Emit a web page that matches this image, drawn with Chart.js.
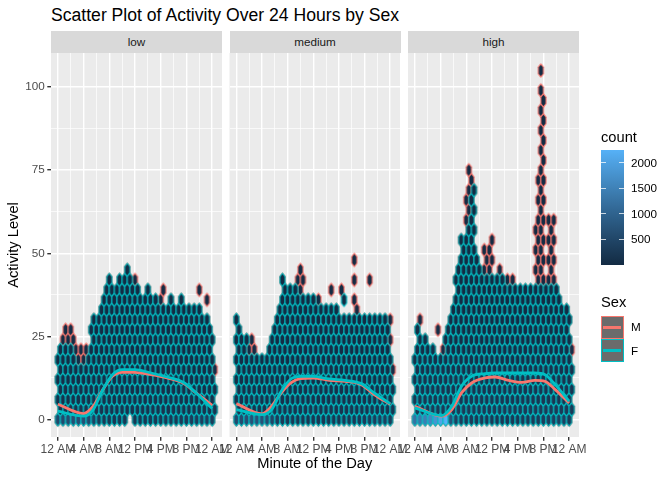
<!DOCTYPE html>
<html>
<head>
<meta charset="utf-8">
<script src="https://cdn.jsdelivr.net/npm/chart.js@4.4.1/dist/chart.umd.min.js"></script>
<style>
  html, body { margin:0; padding:0; background:#fff; }
  body { width:672px; height:480px; position:relative; overflow:hidden; font-family:"Liberation Sans", Arial, Helvetica, sans-serif; }
  .abs { position:absolute; white-space:nowrap; }
  canvas { position:absolute; top:0; }
</style>
</head>
<body>
<div id="plotTitle" class="abs" style="left:51px; top:5px; font-size:17.6px; line-height:20px; color:#000;">Scatter Plot of Activity Over 24 Hours by Sex</div>
<div id="strips"></div>
<canvas id="c0" width="252" height="480" style="left:0px"></canvas>
<canvas id="c1" width="221" height="480" style="left:209px"></canvas>
<canvas id="c2" width="221" height="480" style="left:388px"></canvas>
<div id="legend"></div>
<script>
// ---------------- data ----------------
const panelNames = ['low', 'medium', 'high'];
const sexLevels = ['M', 'F'];
const sexColors = ['#F8766D', '#00BFC4'];
const xTickMinutes = [0, 240, 480, 720, 960, 1200, 1440];
const xTickLabels = ['12 AM', '4 AM', '8 AM', '12 PM', '4 PM', '8 PM', '12 AM'];
const xMinorMinutes = [120, 360, 600, 840, 1080, 1320];
const yTickValues = [0, 25, 50, 75, 100];
const yMinorValues = [12.5, 37.5, 62.5, 87.5];
const countBreaks = [500, 1000, 1500, 2000];
const countRange = [1, 2246];

// hex grid: half-column k sits at minute k*24, rows every 3 activity units
const hexHalfColMinutes = 24;
const hexRowStep = 3;
const baseCount = 15;

// top of each hex half-column (activity units), k = 0..61
const lowTopM = [18,21,24,27,24,27,24,21,18,21, 18,21,21,27,30,30,30,33,36,39, 42,39,36,39,42,39,42,45,42,39, 42,39,36,33,36,39,36,36,36,33, 36,39,33,33,36,33,30,33,36,33, 33,33,33,33,30,33,30,30,30,27, 24,15];
const lowTopF = [18,21,21,21,21,21,18,18,15,15, 15,15,21,27,30,30,30,33,36,39, 42,39,36,39,42,39,42,45,42,39, 36,39,36,33,36,39,36,36,36,33, 33,33,33,33,36,33,30,33,36,33, 33,33,33,33,30,33,30,30,30,27, 24,9];
const mediumTopM = [30,27,24,24,24,21,24,21,18,19, 19,19,19,25,28,31,34,34,42,39, 37,40,37,40,42,45,42,37,37,37, 37,37,36,34,34,34,34,34,34,34, 31,31,31,31,31,31,31,31,31,31, 31,31,31,31,31,31,31,31,31,27, 30,15];
const mediumTopF = [30,27,24,24,24,19,19,19,19,19, 19,19,19,21,24,31,34,34,42,39, 37,40,37,40,37,37,37,37,37,37, 37,37,34,34,34,34,34,34,34,34, 31,31,31,31,31,31,31,31,31,31, 31,31,31,31,31,31,31,31,31,27, 19,10];
const highTopM = [19,28,31,25,25,22,22,22,19,19, 19,25,28,31,34,34,43,46,55,52, 67,76,73,70,52,46,43,52,49,52, 55,43,43,46,43,43,43,40,43,40, 40,40,40,40,40,40,40,58,73,106, 97,40,61,58,61,40,40,34,34,34, 31,22];
const highTopF = [19,28,28,25,25,22,22,22,19,19, 19,19,28,31,34,34,43,46,55,52, 55,58,66,70,52,46,43,43,43,43, 43,43,43,43,43,43,40,40,40,40, 40,40,40,40,40,40,40,40,40,40, 40,40,40,40,40,40,40,34,34,34, 31,19];

// isolated hexes [half-column k, activity]
const lowOutM = [[55,39],[58,36]];
const lowOutF = [];
const mediumOutM = [[37,39],[41,39],[46,48],[46,42],[46,36],[47,33],[52,42]];
const mediumOutF = [[42,36]];
const highOutM = [[9,27]];
const highOutF = [];
// empty hexes inside the filled area [k, activity]
const lowMissing = [[28,0]];
const mediumMissing = [];
const highMissing = [];

// counts: bottom row (even k = 0..60) and rows above (row 1..10)
const lowRow0Count = [520,560,600,640,660,650,560,420,300,260, 240,230,220,220,210,210,210,220,220,230, 230,240,250,260,280,300,320,340,360,380, 300];
const mediumRow0Count = [560,600,650,700,720,700,620,480,340,280, 250,240,230,230,220,220,220,230,230,240, 240,250,260,270,290,310,330,350,370,390, 300];
const highRow0Count = [1250,1350,1450,1600,1800,2050,2246,700,400,320, 300,280,260,250,250,250,250,250,250,260, 270,280,290,300,320,340,360,380,400,400, 300];
const lowUpperCount = [170,130,100,80,65,50,40,32,26,20];
const mediumUpperCount = [190,140,110,90,70,55,45,36,28,22];
const highUpperCount = [280,230,200,170,140,110,85,65,50,38];

// smoothed trend per sex
const lowSmoothX = [0, 240, 330, 420, 510, 600, 720, 870, 1020, 1170, 1290, 1440];
const lowSmoothM = [4.6, 1.8, 4, 9, 13, 14.2, 14.2, 13.5, 12.5, 11, 8, 4.3];
const lowSmoothF = [2.5, 1, 3, 9, 13.5, 15, 15, 14, 12.8, 11.2, 8, 3.3];
const mediumSmoothX = [0, 240, 330, 420, 510, 600, 720, 870, 1020, 1170, 1290, 1440];
const mediumSmoothM = [4.8, 1.7, 4, 8, 11, 12.3, 12.5, 11.8, 11.5, 10.5, 7.5, 4.6];
const mediumSmoothF = [3, 1.5, 3, 8.5, 12.2, 13, 13, 12.2, 11.8, 10.8, 8, 4.8];
const highSmoothX = [0, 250, 345, 435, 530, 655, 750, 875, 1000, 1120, 1215, 1310, 1440];
const highSmoothM = [4, 1, 3, 8, 11, 12.5, 12.8, 11.8, 11.2, 11.8, 11.5, 9, 5];
const highSmoothF = [3.5, 1.2, 4, 10, 13, 13.8, 14, 14, 14, 14, 13.5, 10.5, 5.5];

// ---------------- styles / layout ----------------
const FONT = '"Liberation Sans", Arial, Helvetica, sans-serif';
const panelLeft = [51, 229.5, 408];
const panelWidth = 171;
const yAxisWidth = [51, 20.5, 20];
const rightPad = 30;
const plotTop = 53, plotBottom = 437;
const xRange = [-64, 1532];
const yRange = [-5.25, 110.25];
const lowColor = '#132B43', highColor = '#56B1F7';
const hexLineWidth = 1.05;

// ---------------- colour ramp (CIELAB like ggplot) ----------------
function toLin(c){ c/=255; return c<=0.04045 ? c/12.92 : Math.pow((c+0.055)/1.055, 2.4); }
function toSrgb(v){ v = v<=0.0031308 ? 12.92*v : 1.055*Math.pow(v,1/2.4)-0.055; return Math.round(Math.max(0,Math.min(1,v))*255); }
function hexToLab(hex){
  const r=toLin(parseInt(hex.slice(1,3),16)), g=toLin(parseInt(hex.slice(3,5),16)), b=toLin(parseInt(hex.slice(5,7),16));
  let X=(0.4124*r+0.3576*g+0.1805*b)/0.95047, Y=0.2126*r+0.7152*g+0.0722*b, Z=(0.0193*r+0.1192*g+0.9505*b)/1.08883;
  const f=t=> t>0.008856 ? Math.cbrt(t) : 7.787*t+16/116;
  const fx=f(X), fy=f(Y), fz=f(Z);
  return [116*fy-16, 500*(fx-fy), 200*(fy-fz)];
}
function labToRgb(L,a,b){
  const fy=(L+16)/116, fx=fy+a/500, fz=fy-b/200;
  const inv=t=> t*t*t>0.008856 ? t*t*t : (t-16/116)/7.787;
  const X=inv(fx)*0.95047, Y=inv(fy), Z=inv(fz)*1.08883;
  const r= 3.2406*X-1.5372*Y-0.4986*Z, g=-0.9689*X+1.8758*Y+0.0415*Z, bb=0.0557*X-0.2040*Y+1.0570*Z;
  return 'rgb('+toSrgb(r)+','+toSrgb(g)+','+toSrgb(bb)+')';
}
const labLow = hexToLab(lowColor), labHigh = hexToLab(highColor);
function rampColor(t){
  t=Math.max(0,Math.min(1,t));
  return labToRgb(labLow[0]+(labHigh[0]-labLow[0])*t, labLow[1]+(labHigh[1]-labLow[1])*t, labLow[2]+(labHigh[2]-labLow[2])*t);
}
function countColor(c){ return rampColor((c-countRange[0])/(countRange[1]-countRange[0])); }

// ---------------- build hex points ----------------
const panelTops = [[lowTopM, lowTopF],[mediumTopM, mediumTopF],[highTopM, highTopF]];
const panelOut = [[lowOutM, lowOutF],[mediumOutM, mediumOutF],[highOutM, highOutF]];
const panelMissing = [lowMissing, mediumMissing, highMissing];
const panelRow0 = [lowRow0Count, mediumRow0Count, highRow0Count];
const panelUpper = [lowUpperCount, mediumUpperCount, highUpperCount];
const panelSmoothX = [lowSmoothX, mediumSmoothX, highSmoothX];
const panelSmooth = [[lowSmoothM, lowSmoothF],[mediumSmoothM, mediumSmoothF],[highSmoothM, highSmoothF]];

function countFor(p, k, r){
  if (r === 0) return panelRow0[p][Math.round(k/2)];
  const u = panelUpper[p][r-1];
  return u !== undefined ? u : baseCount;
}
function buildHexes(p, s){
  const pts = [];
  const tops = panelTops[p][s];
  tops.forEach((top, k) => {
    for (let r = k % 2; r*hexRowStep <= top + 1e-9; r += 2) {
      const y = r*hexRowStep;
      if (panelMissing[p].some(m => m[0]===k && m[1]===y)) continue;
      pts.push({x: k*hexHalfColMinutes, y: y, c: countFor(p, k, r)});
    }
  });
  panelOut[p][s].forEach(([k, y]) => pts.push({x: k*hexHalfColMinutes, y: y, c: countFor(p, k, Math.round(y/hexRowStep))}));
  return pts;
}

// hexagon size in pixels follows the axis ranges
function hexPixelSize(chart){
  let w = NaN, h = NaN;
  const xs = chart && chart.scales && chart.scales.x, ys = chart && chart.scales && chart.scales.y;
  if (xs && ys) {
    w = Math.abs(xs.getPixelForValue(2*hexHalfColMinutes) - xs.getPixelForValue(0));
    h = Math.abs(ys.getPixelForValue(0) - ys.getPixelForValue(hexRowStep*4/3));
  }
  if (!isFinite(w) || w <= 0.5 || w > 50) w = panelWidth * 2*hexHalfColMinutes / (xRange[1]-xRange[0]);
  if (!isFinite(h) || h <= 0.5 || h > 80) h = (plotBottom-plotTop) * (hexRowStep*4/3) / (yRange[1]-yRange[0]);
  return [w, h];
}
const hexCache = {};
function hexImage(chart, fill, stroke){
  const key = fill + '|' + stroke;
  if (hexCache[key]) return hexCache[key];
  const [w, h] = hexPixelSize(chart);
  const lw = hexLineWidth;
  const W = Math.ceil(w + lw) + 2, H = Math.ceil(h + lw) + 2;
  const cv = document.createElement('canvas');
  cv.width = W; cv.height = H;
  const g = cv.getContext('2d');
  const cx = W/2, cy = H/2;
  g.beginPath();
  g.moveTo(cx, cy - h/2);
  g.lineTo(cx + w/2, cy - h/4);
  g.lineTo(cx + w/2, cy + h/4);
  g.lineTo(cx, cy + h/2);
  g.lineTo(cx - w/2, cy + h/4);
  g.lineTo(cx - w/2, cy - h/4);
  g.closePath();
  g.fillStyle = fill; g.fill();
  g.lineWidth = lw; g.strokeStyle = stroke; g.lineJoin = 'round'; g.stroke();
  hexCache[key] = cv;
  return cv;
}

const panelBg = {
  id: 'panelBg',
  beforeDraw(chart){
    const a = chart.chartArea, c = chart.ctx;
    c.save(); c.fillStyle = '#EBEBEB'; c.fillRect(a.left, a.top, a.right - a.left, a.bottom - a.top); c.restore();
  }
};

Chart.defaults.font.family = FONT;

function isMajorX(v){ return xTickMinutes.includes(v); }
function isMajorY(v){ return yTickValues.includes(v); }

function makeChart(p){
  const datasets = [];
  sexLevels.forEach((sx, s) => {
    datasets.push({
      type: 'scatter', label: sx + ' hex', data: buildHexes(p, s), order: 4 - s,
      pointRadius: 3, pointHoverRadius: 3,
      pointStyle: ctx => (ctx.raw && ctx.raw.c !== undefined) ? hexImage(ctx.chart, countColor(ctx.raw.c), sexColors[s]) : 'circle'
    });
  });
  sexLevels.forEach((sx, s) => {
    datasets.push({
      type: 'line', label: sx + ' smooth',
      data: panelSmoothX[p].map((x, i) => ({x: x, y: panelSmooth[p][s][i]})),
      borderColor: sexColors[s], borderWidth: 2.8, pointRadius: 0, fill: false,
      cubicInterpolationMode: 'monotone', order: 2 - s
    });
  });
  const first = p === 0;
  return new Chart(document.getElementById('c' + p), {
    type: 'scatter',
    data: { datasets },
    options: {
      responsive: false, animation: false, events: [],
      layout: { padding: { left: 0, right: rightPad, top: plotTop, bottom: 0 } },
      plugins: { legend: { display: false }, tooltip: { enabled: false }, title: { display: false } },
      scales: {
        x: {
          type: 'linear', min: xRange[0], max: xRange[1],
          afterBuildTicks: sc => { sc.ticks = xTickMinutes.concat(xMinorMinutes).sort((a,b)=>a-b).map(v => ({value: v})); },
          afterFit: sc => { sc.height = 480 - plotBottom; },
          border: { display: false },
          grid: {
            color: '#FFFFFF',
            lineWidth: c => (c.tick && isMajorX(c.tick.value)) ? 1.4 : 0.7,
            tickColor: c => (c.tick && isMajorX(c.tick.value)) ? '#333333' : 'rgba(0,0,0,0)',
            tickLength: 3.7, drawTicks: true
          },
          ticks: {
            autoSkip: false, maxRotation: 0, minRotation: 0, padding: 2,
            color: '#4D4D4D', font: { size: 12 },
            callback: v => { const i = xTickMinutes.indexOf(v); return i >= 0 ? xTickLabels[i] : ''; }
          },
          title: { display: p === 1, text: 'Minute of the Day', color: '#000000', font: { size: 14.7 }, padding: { top: 0, bottom: 7 } }
        },
        y: {
          type: 'linear', min: yRange[0], max: yRange[1],
          afterBuildTicks: sc => { sc.ticks = yTickValues.concat(yMinorValues).sort((a,b)=>a-b).map(v => ({value: v})); },
          afterFit: sc => { sc.width = yAxisWidth[p]; },
          border: { display: false },
          grid: {
            color: '#FFFFFF',
            lineWidth: c => (c.tick && isMajorY(c.tick.value)) ? 1.4 : 0.7,
            tickColor: c => (c.tick && isMajorY(c.tick.value)) ? '#333333' : 'rgba(0,0,0,0)',
            tickLength: 3.7, drawTicks: first
          },
          ticks: {
            display: first, padding: 2.5, color: '#4D4D4D', font: { size: 11.7 },
            callback: v => isMajorY(v) ? String(v) : ''
          },
          title: { display: first, text: 'Activity Level', color: '#000000', font: { size: 14.7 }, padding: { top: 5, bottom: 0 } }
        }
      }
    },
    plugins: [panelBg]
  });
}

// strips
const stripsEl = document.getElementById('strips');
panelNames.forEach((name, p) => {
  const d = document.createElement('div');
  d.className = 'abs';
  d.style.cssText = 'left:' + panelLeft[p] + 'px;top:31px;width:' + panelWidth + 'px;height:22px;background:#D9D9D9;color:#1A1A1A;font-size:11.7px;line-height:22px;text-align:center;';
  d.textContent = name;
  stripsEl.appendChild(d);
});

[0,1,2].forEach(makeChart);

// legend
(function(){
  const L = document.getElementById('legend');
  function add(html, css){ const d = document.createElement('div'); d.className='abs'; d.style.cssText = css; d.textContent = html; L.appendChild(d); return d; }
  add('count', 'left:601px;top:129px;font-size:14.7px;line-height:17.6px;color:#000;');
  const barTop = 150, barH = 115, barL = 601, barW = 22.5;
  const stops = [];
  for (let i = 0; i <= 10; i++) stops.push(rampColor(i/10) + ' ' + (i*10) + '%');
  add('', 'left:' + barL + 'px;top:' + barTop + 'px;width:' + barW + 'px;height:' + barH + 'px;background:linear-gradient(to top,' + stops.join(',') + ');');
  countBreaks.forEach(b => {
    const y = barTop + barH - (b - countRange[0]) / (countRange[1] - countRange[0]) * barH;
    add('', 'left:' + barL + 'px;top:' + (y - 0.5) + 'px;width:4.5px;height:1px;background:rgba(255,255,255,0.75);');
    add('', 'left:' + (barL + barW - 4.5) + 'px;top:' + (y - 0.5) + 'px;width:4.5px;height:1px;background:rgba(255,255,255,0.75);');
    add(String(b), 'left:631px;top:' + (y - 7) + 'px;font-size:11.7px;line-height:14px;color:#000;');
  });
  add('Sex', 'left:601px;top:293.5px;font-size:14.7px;line-height:17.6px;color:#000;');
  sexLevels.forEach((sx, s) => {
    const top = 316 + s * 23.3;
    add('', 'left:601px;top:' + top + 'px;width:22.7px;height:22.7px;box-sizing:border-box;background:#6B6B6B;border:1.6px solid ' + sexColors[s] + ';');
    add('', 'left:603.3px;top:' + (top + 11.35 - 1.4) + 'px;width:18.2px;height:2.8px;background:' + sexColors[s] + ';');
    add(sx, 'left:631px;top:' + (top + 11.35 - 7) + 'px;font-size:11.7px;line-height:14px;color:#000;');
  });
})();
</script>
</body>
</html>
